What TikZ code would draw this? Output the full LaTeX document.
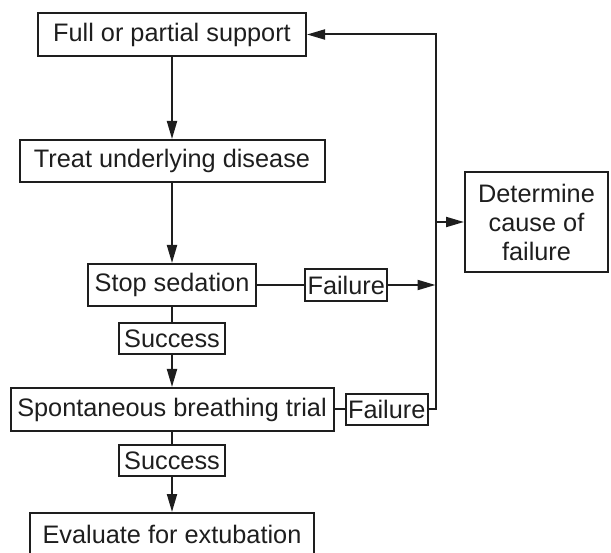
\documentclass[tikz,border=0pt]{standalone}
\usepackage{fontspec}
\setmainfont{Liberation Sans}
\usepackage{tikz}
\usetikzlibrary{arrows.meta,positioning,calc}
\definecolor{ink}{RGB}{30,30,30}

\begin{document}
\begin{tikzpicture}[x=1pt,y=-1pt,font=\fontsize{25.3}{29}\selectfont,
  box/.style={draw=ink,line width=2pt,text=ink,inner sep=1pt,minimum height=42pt},
  tag/.style={draw=ink,line width=2pt,text=ink,inner sep=1pt,minimum height=31pt},
  link/.style={ink,line width=2pt},
  arr/.style={link,-{Triangle[length=18pt,width=10pt]}}]
\useasboundingbox (0,0) rectangle (611,553);
\node[box,minimum width=268pt,minimum height=43pt] (full) at (172,34.5) {Full or partial support};
\node[box,minimum width=305pt,below=82pt of full] (treat) {Treat underlying disease};
\node[box,minimum width=168.5pt,below=80pt of treat] (stop) {Stop sedation};
\node[tag,minimum width=106pt,below=15pt of stop] (ok1) {Success};
\node[box,minimum width=323pt,minimum height=43pt,below=32pt of ok1] (sbt) {Spontaneous breathing trial};
\node[tag,minimum width=106pt,below=12pt of sbt] (ok2) {Success};
\node[box,minimum width=284pt,below=35pt of ok2] (eval) {Evaluate for extubation};
\node[tag,minimum width=82pt,minimum height=32pt,right=47pt of stop] (fail1) {Failure};
\node[tag,minimum width=81.5pt,right=10.5pt of sbt] (fail2) {Failure};
\coordinate[right=128.5pt of full.east] (corner);
\node[box,minimum width=143pt,minimum height=100pt,align=center] (cause) at (536.5,222) {Determine\\cause of\\failure};
\draw[arr] (full) -- (treat);
\draw[arr] (treat) -- (stop);
\draw[link] (stop) -- (ok1);
\draw[arr] (ok1) -- (sbt);
\draw[link] (sbt) -- (ok2);
\draw[arr] (ok2) -- (eval);
\draw[link] (stop) -- (fail1);
\draw[arr] (fail1) -- (corner |- fail1);
\draw[link] (sbt) -- (fail2);
\draw[arr] (fail2.east) -| (corner) -- (full.east);
\draw[arr] (corner |- cause.west) -- (cause);
\end{tikzpicture}
\end{document}
